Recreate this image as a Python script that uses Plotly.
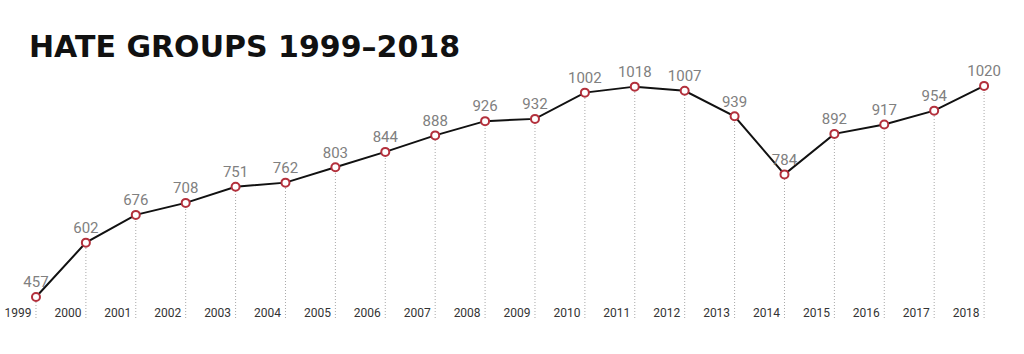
import plotly.graph_objects as go

years = list(range(1999, 2019))
groups = [457, 602, 676, 708, 751, 762, 803, 844, 888, 926, 932, 1002, 1018, 1007, 939, 784, 892, 917, 954, 1020]
year_labels = [str(y) for y in years]

Y_BOTTOM = 401
fig = go.Figure()

for yr, v in zip(years, groups):
    fig.add_shape(type="line", xref="x", yref="y", x0=yr, x1=yr, y0=Y_BOTTOM, y1=v,
                  line=dict(color="#a8a8a8", width=1, dash="1px,2px"), layer="below")

fig.add_trace(go.Scatter(
    x=years, y=groups, mode="lines+markers+text",
    text=[str(v) for v in groups], textposition="top center",
    textfont=dict(family="Liberation Sans Narrow, Roboto, sans-serif", size=15, color="#808080"),
    line=dict(color="#111111", width=2),
    marker=dict(size=8, color="white", line=dict(color="#b3303c", width=2)),
    cliponaxis=False, hoverinfo="skip"))

fig.update_xaxes(range=[1998.279, 2018.80], showgrid=False, zeroline=False, showline=False,
                 tickmode="array", tickvals=[y - 0.36 for y in years], ticktext=year_labels,
                 ticklabelposition="inside", ticks="", ticklabelstandoff=-4,
                 tickfont=dict(family="Liberation Sans Narrow, Roboto, sans-serif", size=12, color="#333333"))
fig.update_yaxes(range=[Y_BOTTOM, 1249], visible=False)

fig.update_layout(
    width=1024, height=354, margin=dict(l=0, r=0, t=0, b=36),
    paper_bgcolor="white", plot_bgcolor="white", showlegend=False,
    annotations=[dict(text="HATE GROUPS 1999–2018", xref="paper", yref="paper",
                      x=27/1024, y=1 - 27/318, xanchor="left", yanchor="top", showarrow=False,
                      font=dict(family="DejaVu Sans", size=30, color="#111111", weight=900))])

fig.write_html("out.html")
